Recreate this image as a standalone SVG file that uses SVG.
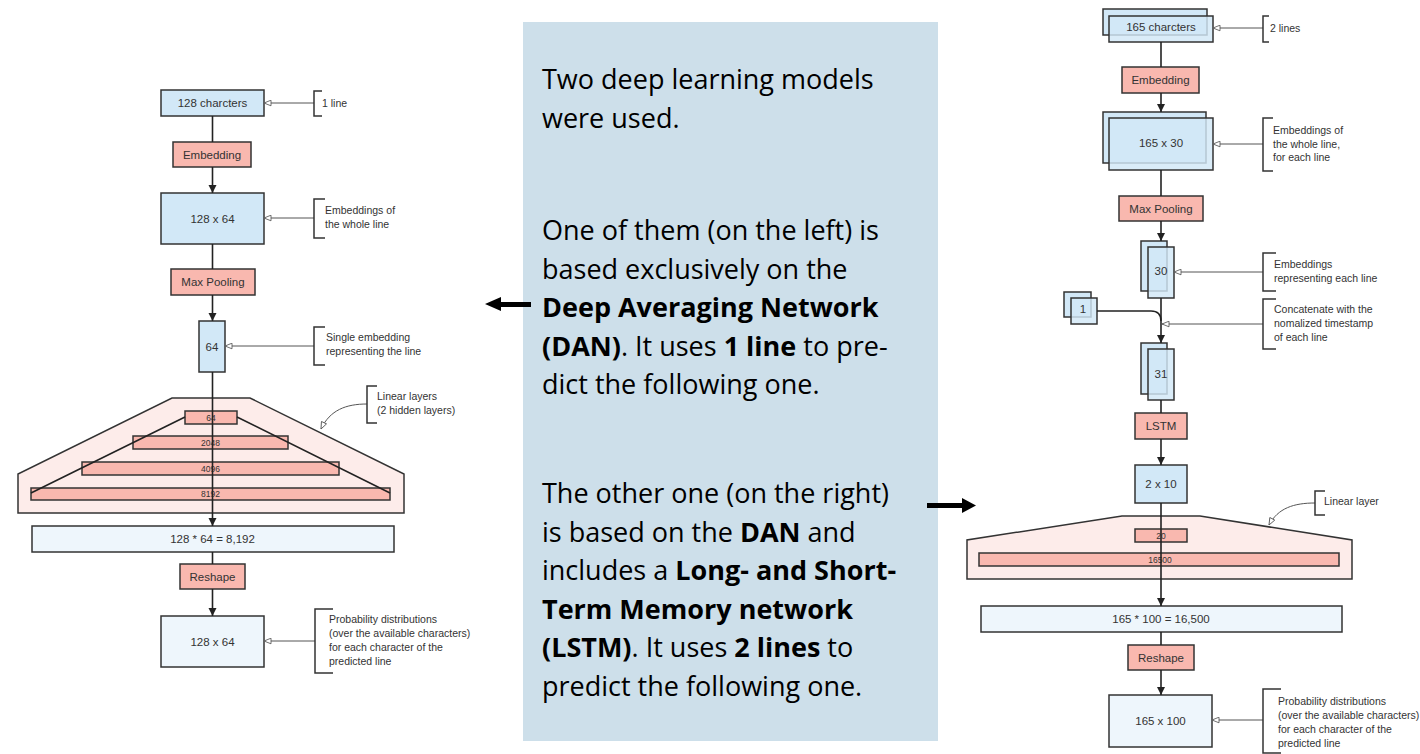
<svg xmlns="http://www.w3.org/2000/svg" width="1420" height="754" viewBox="0 0 1420 754">
  <defs>
    <style>
      .node { stroke: #333; stroke-width: 1.5; }
      .blue { fill: #d2e8f7; }
      .blueF { fill: #d2e8f7; fill-opacity: 0.82; }
      .pale { fill: #eef6fc; }
      .red { fill: #f9b8af; }
      .trap { fill: #fdecea; stroke: #333; stroke-width: 1.5; }
      .lbl { font-family: "Liberation Sans", Arial, sans-serif; font-size: 11.5px; fill: #333; text-anchor: middle; }
      .small { font-family: "Liberation Sans", Arial, sans-serif; font-size: 8.5px; fill: #333; text-anchor: middle; }
      .note { font-family: "Liberation Sans", Arial, sans-serif; font-size: 10.5px; fill: #333; }
      .conn { stroke: #222; stroke-width: 1.6; fill: none; }
      .ann { stroke: #555; stroke-width: 1; fill: none; }
      .brk { stroke: #333; stroke-width: 1.5; fill: none; }
      .body { font-family: "Open Sans", "Liberation Sans", sans-serif; font-size: 27px; fill: #000; }
      .b { font-weight: bold; }
    </style>
    <marker id="arr" viewBox="0 0 10 10" refX="10" refY="5" markerUnits="userSpaceOnUse" markerWidth="8" markerHeight="10" orient="auto">
      <path d="M0,0 L10,5 L0,10 z" fill="#222"/>
    </marker>
    <marker id="open" viewBox="0 0 12 10" refX="11" refY="5" markerUnits="userSpaceOnUse" markerWidth="10" markerHeight="7" orient="auto">
      <path d="M1,1 L11,5 L1,9 z" fill="#fff" stroke="#555" stroke-width="1.2"/>
    </marker>
  </defs>

  <rect width="1420" height="754" fill="#fff"/>

  <!-- Text panel -->
  <g id="panel">
    <rect x="523" y="22" width="415" height="719" fill="#cddfea"/>
    <text class="body" x="542" y="89">Two deep learning models</text>
    <text class="body" x="542" y="128">were used.</text>
    <text class="body" x="542" y="240">One of them (on the left) is</text>
    <text class="body" x="542" y="278.6">based exclusively on the</text>
    <text class="body" x="542" y="317.2"><tspan class="b">Deep Averaging Network</tspan></text>
    <text class="body" x="542" y="355.8"><tspan class="b">(DAN)</tspan>. It uses <tspan class="b">1 line</tspan> to pre-</text>
    <text class="body" x="542" y="394.4">dict the following one.</text>
    <text class="body" x="542" y="503">The other one (on the right)</text>
    <text class="body" x="542" y="541.6">is based on the <tspan class="b">DAN</tspan> and</text>
    <text class="body" x="542" y="580.2">includes a <tspan class="b">Long- and Short-</tspan></text>
    <text class="body" x="542" y="618.8"><tspan class="b">Term Memory network</tspan></text>
    <text class="body" x="542" y="657.4"><tspan class="b">(LSTM)</tspan>. It uses <tspan class="b">2 lines</tspan> to</text>
    <text class="body" x="542" y="696">predict the following one.</text>
  </g>

  <!-- Pointers from the panel to each model -->
  <g id="pointers" fill="#000">
    <polygon points="485,304 501,297 501,302 531,302 531,307 501,307 501,311"/>
    <polygon points="976,505.5 962,498 962,503 927,503 927,508 962,508 962,513"/>
  </g>

  <!-- ===== DAN model (left) ===== -->
  <g id="dan-input">
    <rect class="node blue" x="161" y="90" width="103" height="26"/>
    <text class="lbl" x="212.5" y="107">128 charcters</text>
  </g>
  <g id="dan-embedding">
    <rect class="node red" x="173" y="142" width="78" height="25"/>
    <text class="lbl" x="212" y="158.5">Embedding</text>
  </g>
  <g id="dan-emb-matrix">
    <rect class="node blue" x="161" y="193" width="103" height="51"/>
    <text class="lbl" x="212.5" y="222.5">128 x 64</text>
  </g>
  <g id="dan-maxpool">
    <rect class="node red" x="171" y="269" width="84" height="26"/>
    <text class="lbl" x="213" y="286">Max Pooling</text>
  </g>
  <g id="dan-vector">
    <rect class="node blue" x="199" y="321" width="26" height="51"/>
    <text class="lbl" x="212" y="350.5">64</text>
  </g>
  <g id="dan-linear">
    <polygon class="trap" points="172,398 250,398 404,474 404,513 18,513 18,474"/>
    <rect class="node red" x="185" y="411" width="52" height="13" stroke-width="1.3"/>
    <text class="small" x="211" y="420.5">64</text>
    <rect class="node red" x="133" y="436" width="155" height="13" stroke-width="1.3"/>
    <text class="small" x="210.5" y="445.5">2048</text>
    <rect class="node red" x="82" y="462" width="257" height="13" stroke-width="1.3"/>
    <text class="small" x="210.5" y="471.5">4096</text>
    <rect class="node red" x="31" y="488" width="359" height="12" stroke-width="1.3"/>
    <text class="small" x="210.5" y="497">8192</text>
    <path class="conn" d="M185,417 L31,493 M237,417 L390,493" stroke-width="1.4"/>
  </g>
  <g id="dan-flat">
    <rect class="node pale" x="32" y="526" width="362" height="26"/>
    <text class="lbl" x="212.5" y="543">128 * 64 = 8,192</text>
  </g>
  <g id="dan-reshape">
    <rect class="node red" x="180" y="564" width="65" height="25"/>
    <text class="lbl" x="212.5" y="580.5">Reshape</text>
  </g>
  <g id="dan-output">
    <rect class="node pale" x="161" y="616" width="103" height="51"/>
    <text class="lbl" x="212.5" y="645.5">128 x 64</text>
  </g>

  <!-- ===== DAN + LSTM model (right) ===== -->
  <g id="lstm-input">
    <rect class="node blue" x="1103" y="9" width="104" height="26"/>
    <rect class="node blueF" x="1109" y="16" width="104" height="26"/>
    <text class="lbl" x="1161" y="31">165 charcters</text>
  </g>
  <g id="lstm-embedding">
    <rect class="node red" x="1122" y="67" width="77" height="26"/>
    <text class="lbl" x="1160.5" y="84">Embedding</text>
  </g>
  <g id="lstm-emb-matrix">
    <rect class="node blue" x="1103" y="112" width="103" height="51"/>
    <rect class="node blueF" x="1109" y="118" width="104" height="52"/>
    <text class="lbl" x="1161" y="147">165 x 30</text>
  </g>
  <g id="lstm-maxpool">
    <rect class="node red" x="1119" y="196" width="84" height="25"/>
    <text class="lbl" x="1161" y="212.5">Max Pooling</text>
  </g>
  <g id="lstm-vector">
    <rect class="node blue" x="1141" y="241" width="26" height="50"/>
    <rect class="node blueF" x="1148" y="247" width="26" height="51"/>
    <text class="lbl" x="1161" y="275">30</text>
  </g>
  <g id="lstm-timestamp">
    <rect class="node blue" x="1064" y="292" width="27" height="25"/>
    <rect class="node blueF" x="1071" y="298" width="26" height="26"/>
    <text class="lbl" x="1083" y="313">1</text>
  </g>
  <g id="lstm-concat">
    <rect class="node blue" x="1141" y="343" width="26" height="51"/>
    <rect class="node blueF" x="1148" y="349" width="26" height="51"/>
    <text class="lbl" x="1161" y="378">31</text>
  </g>
  <g id="lstm-layer">
    <rect class="node red" x="1135" y="413" width="52" height="26"/>
    <text class="lbl" x="1161" y="430">LSTM</text>
  </g>
  <g id="lstm-state">
    <rect class="node blue" x="1135" y="465" width="52" height="38"/>
    <text class="lbl" x="1161" y="488">2 x 10</text>
  </g>
  <g id="lstm-linear">
    <polygon class="trap" points="1122,516 1200,516 1352,540 1352,579 967,579 967,540"/>
    <rect class="node red" x="1135" y="529" width="52" height="13" stroke-width="1.3"/>
    <text class="small" x="1161" y="538.5">20</text>
    <rect class="node red" x="979" y="553" width="360" height="13" stroke-width="1.3"/>
    <text class="small" x="1160" y="562.5">16500</text>
  </g>
  <g id="lstm-flat">
    <rect class="node pale" x="981" y="606" width="361" height="26"/>
    <text class="lbl" x="1161" y="623">165 * 100 = 16,500</text>
  </g>
  <g id="lstm-reshape">
    <rect class="node red" x="1128" y="645" width="66" height="25"/>
    <text class="lbl" x="1161" y="661.5">Reshape</text>
  </g>
  <g id="lstm-output">
    <rect class="node pale" x="1109" y="695" width="103" height="52"/>
    <text class="lbl" x="1160.5" y="725">165 x 100</text>
  </g>

  <!-- Connectors -->
  <g id="connectors">
    <path class="conn" d="M212.5,116 V142"/>
    <path class="conn" d="M212.5,167 V193" marker-end="url(#arr)"/>
    <path class="conn" d="M212.5,244 V269"/>
    <path class="conn" d="M212.5,295 V321" marker-end="url(#arr)"/>
    <path class="conn" d="M212.5,372 V526" marker-end="url(#arr)"/>
    <path class="conn" d="M212.5,552 V564"/>
    <path class="conn" d="M212.5,589 V616" marker-end="url(#arr)"/>

    <path class="conn" d="M1161,42 V67"/>
    <path class="conn" d="M1161,93 V112" marker-end="url(#arr)"/>
    <path class="conn" d="M1161,170 V196"/>
    <path class="conn" d="M1161,221 V241" marker-end="url(#arr)"/>
    <path class="conn" d="M1161,298 V343" marker-end="url(#arr)"/>
    <path class="conn" d="M1097,311 H1151 Q1161,311 1161,321"/>
    <path class="conn" d="M1161,400 V413"/>
    <path class="conn" d="M1161,439 V465" marker-end="url(#arr)"/>
    <path class="conn" d="M1161,503 V606" marker-end="url(#arr)"/>
    <path class="conn" d="M1161,632 V645"/>
    <path class="conn" d="M1161,670 V695" marker-end="url(#arr)"/>
  </g>

  <!-- Annotations -->
  <g id="notes-left">
    <path class="ann" d="M314,103 H264" marker-end="url(#open)"/>
    <path class="brk" d="M322,91 H314 V116 H322"/>
    <text class="note" x="322" y="107">1 line</text>

    <path class="ann" d="M314,218 H264" marker-end="url(#open)"/>
    <path class="brk" d="M325,199 H314 V238 H325"/>
    <text class="note" x="325" y="214">Embeddings of</text>
    <text class="note" x="325" y="228">the whole line</text>

    <path class="ann" d="M314,346 H225" marker-end="url(#open)"/>
    <path class="brk" d="M325,327 H314 V365 H325"/>
    <text class="note" x="326" y="341">Single embedding</text>
    <text class="note" x="326" y="355">representing the line</text>

    <path class="ann" d="M367,404 C346,404 330,410 321,429" marker-end="url(#open)"/>
    <path class="brk" d="M377,386 H367 V423 H377"/>
    <text class="note" x="377" y="400">Linear layers</text>
    <text class="note" x="377" y="414">(2 hidden layers)</text>

    <path class="ann" d="M315,641 H264" marker-end="url(#open)"/>
    <path class="brk" d="M333,609 H315 V673 H333"/>
    <text class="note" x="329" y="623">Probability distributions</text>
    <text class="note" x="329" y="637">(over the available characters)</text>
    <text class="note" x="329" y="651">for each character of the</text>
    <text class="note" x="329" y="665">predicted line</text>
  </g>

  <g id="notes-right">
    <path class="ann" d="M1263,28 H1213" marker-end="url(#open)"/>
    <path class="brk" d="M1269,16 H1263 V42 H1269"/>
    <text class="note" x="1270" y="31.5">2 lines</text>

    <path class="ann" d="M1263,144 H1213" marker-end="url(#open)"/>
    <path class="brk" d="M1273,118 H1263 V171 H1273"/>
    <text class="note" x="1273" y="134">Embeddings of</text>
    <text class="note" x="1273" y="148">the whole line,</text>
    <text class="note" x="1273" y="161">for each line</text>

    <path class="ann" d="M1263,272 H1174" marker-end="url(#open)"/>
    <path class="brk" d="M1276,253 H1263 V291 H1276"/>
    <text class="note" x="1274" y="268">Embeddings</text>
    <text class="note" x="1274" y="282">representing each line</text>

    <path class="ann" d="M1263,324 H1162" marker-end="url(#open)"/>
    <path class="brk" d="M1276,299 H1263 V349 H1276"/>
    <text class="note" x="1274" y="313">Concatenate with the</text>
    <text class="note" x="1274" y="327">nomalized timestamp</text>
    <text class="note" x="1274" y="341">of each line</text>

    <path class="ann" d="M1315,503 C1294,503 1278,508 1269,525" marker-end="url(#open)"/>
    <path class="brk" d="M1325,491 H1315 V515 H1325"/>
    <text class="note" x="1324" y="505">Linear layer</text>

    <path class="ann" d="M1263,720 H1212" marker-end="url(#open)"/>
    <path class="brk" d="M1281,689 H1263 V753 H1281"/>
    <text class="note" x="1278" y="705">Probability distributions</text>
    <text class="note" x="1278" y="719">(over the available characters)</text>
    <text class="note" x="1278" y="733">for each character of the</text>
    <text class="note" x="1278" y="747">predicted line</text>
  </g>
</svg>
